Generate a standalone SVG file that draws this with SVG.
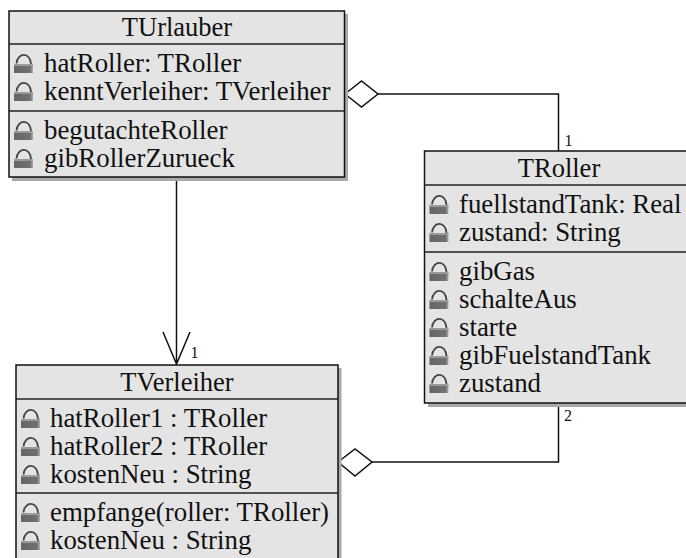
<svg xmlns="http://www.w3.org/2000/svg" width="686" height="558" viewBox="0 0 686 558">
<style>
text{font-family:"Liberation Serif","Times New Roman",serif;fill:#111}
.t{font-size:26.850px}
.title{text-anchor:middle;font-size:26.500px}
.m{font-size:16px}
.box{fill:#e4e4e4;stroke:#111;stroke-width:1.5}
.shadow{fill:#aaa}
.div{stroke:#222;stroke-width:1.5;fill:none}
.con{stroke:#111;stroke-width:1.5;fill:none}
.dia{stroke:#111;stroke-width:1.5;fill:#fff}
</style>
<defs>
<linearGradient id="lg" x1="0" y1="0" x2="1" y2="0"><stop offset="0" stop-color="#666"/><stop offset="0.85" stop-color="#707070"/><stop offset="1" stop-color="#b0b0b0"/></linearGradient>
<g id="lock"><path d="M-7 -3.500C-6 -15 7 -15 7.500 -3" fill="none" stroke="#444" stroke-width="1.800"/><rect x="-9.500" y="-3" width="19" height="9" fill="url(#lg)"/><rect x="-9.500" y="-3" width="19" height="2" fill="#9a9a9a"/></g>
</defs>
<g id="connectors">
<path class="con" d="M176.500 177V364M163 332L176.500 364L190 332"/>
<path class="con" d="M378 94H558.500V151"/>
<polygon class="dia" points="345,94 361.500,81 378,94 361.500,107"/>
<path class="con" d="M372 462H558.500V403"/>
<polygon class="dia" points="338,462 355,449 372,462 355,476"/>
<text class="m" x="190.500" y="358">1</text>
<text class="m" x="564.500" y="146">1</text>
<text class="m" x="564" y="421">2</text>
</g>
<g id="TUrlauber">
<rect class="shadow" x="12" y="14" width="336" height="167"/>
<rect class="box" x="9" y="11" width="335.500" height="166"/>
<path class="div" d="M9 44H344.500M9 111H344.500"/>
<text class="t title" x="177" y="36">TUrlauber</text>
<use href="#lock" x="23.500" y="67"/><text class="t" x="44" y="72">hatRoller: TRoller</text>
<use href="#lock" x="23.500" y="95"/><text class="t" x="44" y="100">kenntVerleiher: TVerleiher</text>
<use href="#lock" x="23.500" y="134"/><text class="t" x="44" y="139">begutachteRoller</text>
<use href="#lock" x="23.500" y="162"/><text class="t" x="44" y="167">gibRollerZurueck</text>
</g>
<g id="TRoller">
<rect class="shadow" x="428" y="154" width="262" height="253"/>
<rect class="box" x="424.500" y="151" width="265" height="252"/>
<path class="div" d="M424.500 185H690M424.500 252H690"/>
<text class="t title" x="559" y="177">TRoller</text>
<use href="#lock" x="439" y="208"/><text class="t" x="459" y="213">fuellstandTank: Real</text>
<use href="#lock" x="439" y="236"/><text class="t" x="459" y="241">zustand: String</text>
<use href="#lock" x="439" y="275"/><text class="t" x="459" y="280">gibGas</text>
<use href="#lock" x="439" y="303"/><text class="t" x="459" y="308">schalteAus</text>
<use href="#lock" x="439" y="331"/><text class="t" x="459" y="336">starte</text>
<use href="#lock" x="439" y="359"/><text class="t" x="459" y="364">gibFuelstandTank</text>
<use href="#lock" x="439" y="387"/><text class="t" x="459" y="392">zustand</text>
</g>
<g id="TVerleiher">
<rect class="shadow" x="19" y="368" width="322.500" height="200"/>
<rect class="box" x="16" y="365" width="322" height="200"/>
<path class="div" d="M16 399H338M16 493H338"/>
<text class="t title" x="177" y="391">TVerleiher</text>
<use href="#lock" x="30.500" y="422"/><text class="t" x="50" y="427">hatRoller1 : TRoller</text>
<use href="#lock" x="30.500" y="450"/><text class="t" x="50" y="455">hatRoller2 : TRoller</text>
<use href="#lock" x="30.500" y="478"/><text class="t" x="50" y="483">kostenNeu : String</text>
<use href="#lock" x="30.500" y="516"/><text class="t" x="50" y="521">empfange(roller: TRoller)</text>
<use href="#lock" x="30.500" y="544"/><text class="t" x="50" y="549">kostenNeu : String</text>
</g>
</svg>
